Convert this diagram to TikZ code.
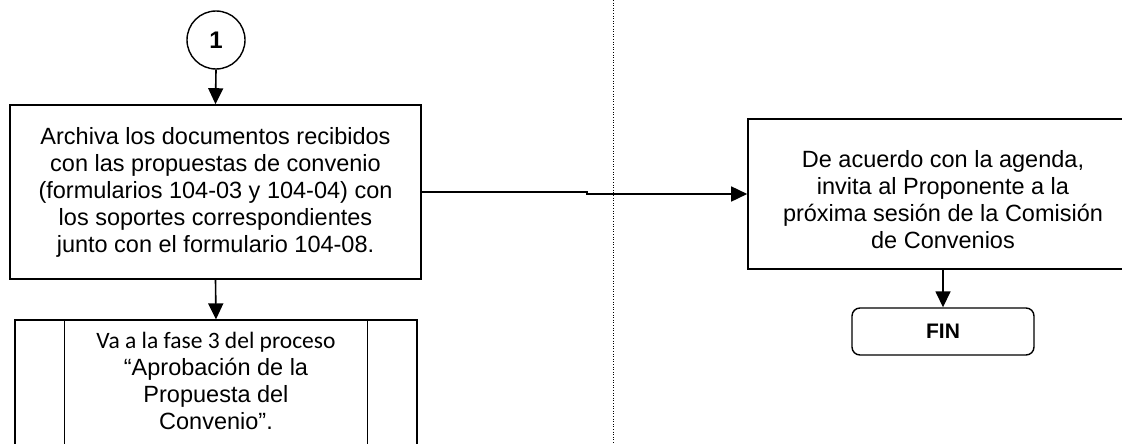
\documentclass[tikz,border=0pt]{standalone}
\usepackage{fontspec}
\setmainfont{Liberation Sans}
\newfontfamily\calfont{Carlito}
\usetikzlibrary{arrows.meta}
\begin{document}
\begin{tikzpicture}[x=1pt,y=-1pt,
  txt/.style={font=\fontsize{23.5}{27}\selectfont, align=center},
  procbox/.style={draw, line width=1.6pt, rectangle, inner sep=0pt},
  flow/.style={line width=1.6pt, -{Triangle[length=16pt,width=15pt]}},
  conn/.style={draw, circle, line width=1.4pt, minimum size=58pt, inner sep=0pt,
    font=\bfseries\fontsize{24}{28}\selectfont},
  endbox/.style={draw, rectangle, rounded corners=8pt, line width=1.4pt,
    minimum width=182pt, minimum height=47pt, inner sep=0pt,
    font=\bfseries\fontsize{21}{25}\selectfont}]
\clip (0,0) rectangle (1122,444);
\fill[white] (0,0) rectangle (1122,444);

% lane separator
\draw[line width=1pt, dash pattern=on 1pt off 1.6pt] (613,0) -- (613,444);

% off-page connector
\node[conn] (c1) at (216,40) {1};

% archive step
\node[procbox, minimum width=411pt, minimum height=174pt, txt] (b1) at (215.5,192)
  {Archiva los documentos recibidos\\con las propuestas de convenio\\(formularios 104-03 y 104-04) con\\los soportes correspondientes\\junto con el formulario 104-08.};

% predefined process (phase 3)
\node[procbox, line width=1.3pt, minimum width=402pt, minimum height=140pt,
  label={[name=b2t, txt, yshift=9pt]center:{{\calfont\fontsize{23.5}{27}\selectfont Va a la fase 3 del proceso}\\“Aprobación de la\\Propuesta del\\Convenio”.}}]
  (b2) at (216,390) {};
\draw[line width=1.3pt] ([xshift=50pt]b2.north west) -- ([xshift=50pt]b2.south west);
\draw[line width=1.3pt] ([xshift=-50pt]b2.north east) -- ([xshift=-50pt]b2.south east);

% invitation step
\node[procbox, minimum width=390pt, minimum height=150pt,
  label={[name=b3t, txt, yshift=-6pt]center:{De acuerdo con la agenda,\\invita al Proponente a la\\próxima sesión de la Comisión\\de Convenios}}]
  (b3) at (943,194) {};

% end terminator
\node[endbox] (fin) at (943,331.5) {FIN};

% connectors
\coordinate (k1) at (587,192);
\coordinate (k2) at (587,194);
\draw[flow] (c1.south) -- (b1.north);
\draw[flow] (b1.south) -- (b2.north);
\draw[flow] (b1.east) -- (k1) -- (k2) -- (b3.west);
\draw[flow] (b3.south) -- (fin.north);
\end{tikzpicture}
\end{document}
